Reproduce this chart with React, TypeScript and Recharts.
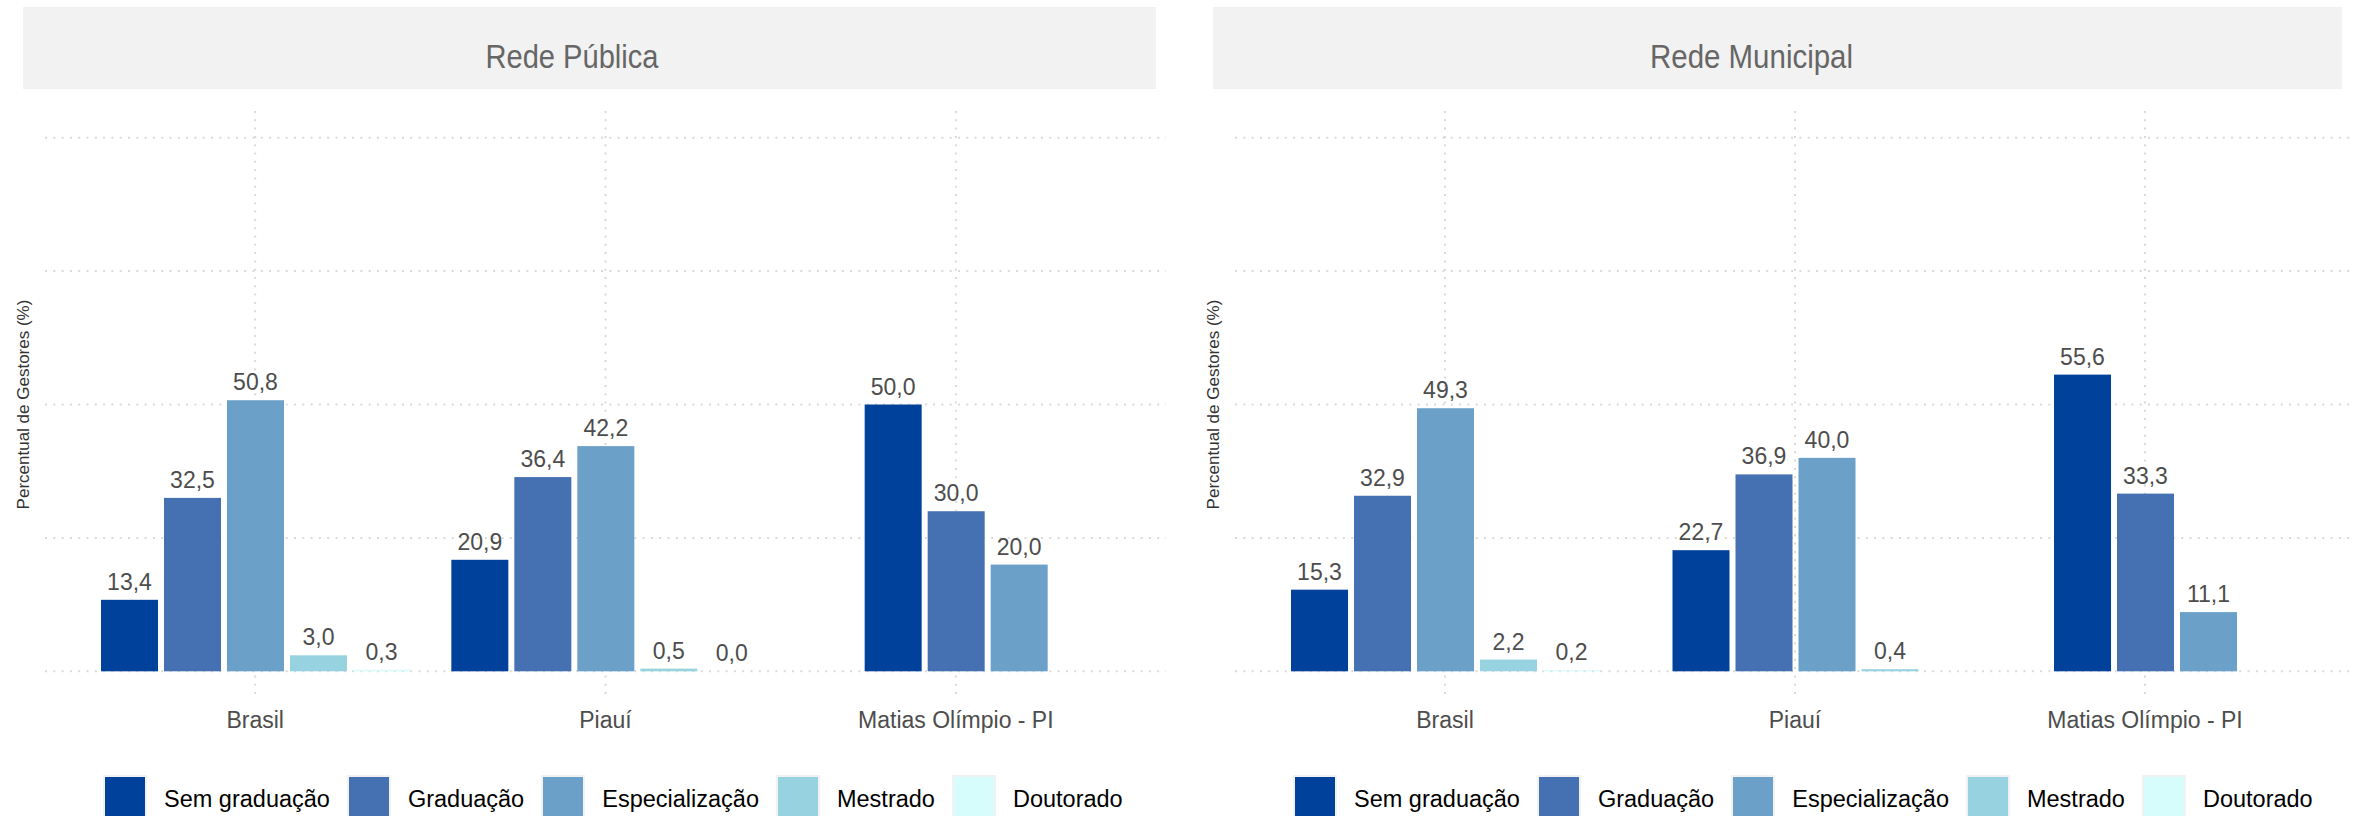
import React from 'react';
import { BarChart, Bar, XAxis, YAxis, CartesianGrid, LabelList } from 'recharts';

const categories = ['Brasil', 'Piauí', 'Matias Olímpio - PI'];
const seriesNames = ['Sem graduação', 'Graduação', 'Especialização', 'Mestrado', 'Doutorado'];
const seriesKeys = ['sem', 'grad', 'espec', 'mest', 'dout'];
const seriesColors = ['#00419c', '#4570b2', '#6ba0c8', '#96d2e0', '#d6fcfc'];
const yTicks = [0, 25, 50, 75, 100];

// Rede Pública
const publicaSem = [13.4, 20.9, 50.0];
const publicaGrad = [32.5, 36.4, 30.0];
const publicaEspec = [50.8, 42.2, 20.0];
const publicaMest = [3.0, 0.5, null];
const publicaDout = [0.3, 0.0, null];

// Rede Municipal
const municipalSem = [15.3, 22.7, 55.6];
const municipalGrad = [32.9, 36.9, 33.3];
const municipalEspec = [49.3, 40.0, 11.1];
const municipalMest = [2.2, 0.4, null];
const municipalDout = [0.2, null, null];

const FONT = '"Liberation Sans", Arial, Helvetica, sans-serif';
const BAR_GAP = 6;
const BAR_SIZE = 57;

type Row = { [k: string]: any };

function buildRows(series: (number | null)[][]): Row[] {
  return categories.map((cat, i) => {
    const row: Row = { cat };
    let count = 0;
    seriesKeys.forEach((k, s) => {
      const v = series[s][i];
      row[k] = v;
      if (v !== null && v !== undefined) count += 1;
    });
    row.count = count;
    return row;
  });
}

const publicaRows = buildRows([publicaSem, publicaGrad, publicaEspec, publicaMest, publicaDout]);
const municipalRows = buildRows([municipalSem, municipalGrad, municipalEspec, municipalMest, municipalDout]);

const fmt = (v: number) => v.toFixed(1).replace('.', ',');

function makeShape(key: string) {
  return (props: any) => {
    const { x, y, width, height, fill, payload } = props;
    if (!payload || payload[key] === null || payload[key] === undefined) return null;
    const shift = ((seriesKeys.length - payload.count) / 2) * (width + BAR_GAP);
    const h = Math.max(0, height);
    if (h <= 0) return null;
    return <rect x={x + shift} y={y} width={width} height={h} fill={fill} />;
  };
}

function makeLabel(key: string, rows: Row[]) {
  return (props: any) => {
    const { x, y, width, index } = props;
    const row = rows[index];
    if (!row) return null;
    const v = row[key];
    if (v === null || v === undefined) return null;
    const shift = ((seriesKeys.length - row.count) / 2) * (Number(width) + BAR_GAP);
    return (
      <text
        x={Number(x) + Number(width) / 2 + shift}
        y={Number(y) - 10}
        textAnchor="middle"
        fill="#4d4d4d"
        fontSize={23}
        fontFamily={FONT}
      >
        {fmt(v)}
      </text>
    );
  };
}

const emptyTick = () => <g />;

function Panel({ title, rows, left, width, marginRight, stripWidth, titleX, titleLen }: any) {
  return (
    <div style={{ position: 'absolute', left, top: 0, width, height: 816 }}>
      <svg width={width} height={100} style={{ position: 'absolute', left: 0, top: 0 }}>
        <rect x={23} y={7} width={stripWidth} height={82} fill="#f2f2f2" />
        <text
          x={titleX}
          y={67.7}
          textAnchor="middle"
          fill="#666666"
          fontSize={34}
          fontFamily={FONT}
          textLength={titleLen}
          lengthAdjust="spacingAndGlyphs"
        >
          {title}
        </text>
      </svg>
      <div style={{ position: 'absolute', left: 0, top: 0 }}>
        <BarChart
          width={width}
          height={816}
          data={rows}
          margin={{ top: 111, right: marginRight, bottom: 88, left: 0 }}
          barGap={BAR_GAP}
          barSize={BAR_SIZE}
        >
          <CartesianGrid
            stroke="#dadada"
            strokeWidth={2}
            strokeDasharray="2 6.3"
            horizontalValues={yTicks}
            verticalValues={categories}
            syncWithTicks
          />
          <XAxis
            dataKey="cat"
            height={30}
            axisLine={false}
            tickLine={false}
            tickMargin={8}
            interval={0}
            padding={{ left: 35, right: 35 }}
            tick={{ fill: '#4d4d4d', fontSize: 23, fontFamily: FONT }}
          />
          <YAxis
            type="number"
            domain={[-5, 105]}
            ticks={yTicks}
            interval={0}
            width={45}
            tick={emptyTick}
            axisLine={false}
            tickLine={false}
            label={{
              value: 'Percentual de Gestores (%)',
              angle: -90,
              position: 'center',
              fill: '#333333',
              fontSize: 17,
              fontFamily: FONT,
            }}
          />
          {seriesKeys.map((k, s) => (
            <Bar
              key={k}
              dataKey={k}
              name={seriesNames[s]}
              fill={seriesColors[s]}
              isAnimationActive={false}
              shape={makeShape(k)}
            >
              <LabelList dataKey={k} content={makeLabel(k, rows)} />
            </Bar>
          ))}
        </BarChart>
      </div>
      <div
        style={{
          position: 'absolute',
          left: 103,
          top: 775,
          display: 'flex',
          alignItems: 'center',
          fontFamily: FONT,
          fontSize: 23.5,
          color: '#000',
          whiteSpace: 'nowrap',
        }}
      >
        {seriesNames.map((n, s) => (
          <div key={n} style={{ display: 'flex', alignItems: 'center', marginRight: 17 }}>
            <div
              style={{
                width: 44,
                height: 44,
                boxSizing: 'border-box',
                border: '2px solid #f2f2f2',
                background: seriesColors[s],
                marginRight: 17,
              }}
            />
            <span style={{ lineHeight: '44px', position: 'relative', top: 2 }}>{n}</span>
          </div>
        ))}
      </div>
    </div>
  );
}

export default function App() {
  return (
    <div style={{ position: 'relative', width: 2369, height: 816, overflow: 'hidden', background: '#fff' }}>
      <style>{`html,body{margin:0;padding:0;overflow:hidden;background:#fff}`}</style>
      <Panel
        title="Rede Pública"
        rows={publicaRows}
        left={0}
        width={1190}
        marginRight={24}
        stripWidth={1133}
        titleX={572}
        titleLen={173}
      />
      <Panel
        title="Rede Municipal"
        rows={municipalRows}
        left={1190}
        width={1179}
        marginRight={14}
        stripWidth={1129}
        titleX={561.5}
        titleLen={203}
      />
    </div>
  );
}
